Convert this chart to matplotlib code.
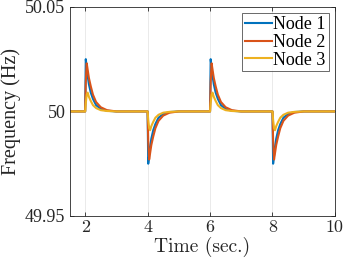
import numpy as np
import matplotlib
matplotlib.use("Agg")
import matplotlib.pyplot as plt

plt.rcParams['font.family'] = ['Liberation Serif', 'DejaVu Serif']
plt.rcParams['mathtext.fontset'] = 'cm'
plt.rcParams['axes.unicode_minus'] = False

# Event times and signs (+1 step-up response, -1 step-down response)
event_times = [2.0, 4.0, 6.0, 8.0]
event_signs = [1, -1, 1, -1]

# Transient shape after each event (offset in seconds, deviation in Hz)
offsets = [0.0, 0.02, 0.05, 0.08, 0.12, 0.18, 0.25, 0.35, 0.5, 0.7, 1.0]
node1_dev = [0.0, 0.025, 0.021, 0.017, 0.013, 0.009, 0.006, 0.003, 0.0012, 0.0003, 0.0]
node2_dev = [0.0, 0.014, 0.023, 0.020, 0.016, 0.012, 0.008, 0.0045, 0.002, 0.0006, 0.0]
node3_dev = [0.0, 0.004, 0.008, 0.009, 0.007, 0.005, 0.003, 0.0016, 0.0006, 0.0002, 0.0]

nominal = 50.0
t_start, t_end = 1.5, 10.0

series = {"Node 1": node1_dev, "Node 2": node2_dev, "Node 3": node3_dev}
colors = {"Node 1": "#0072BD", "Node 2": "#D95319", "Node 3": "#EDB120"}

x_ticks = [2, 4, 6, 8, 10]
y_ticks = [49.95, 50.0, 50.05]
y_ticklabels = ["49.95", "50", "50.05"]


def build(dev):
    t = [t_start]
    f = [nominal]
    for te, s in zip(event_times, event_signs):
        for o, d in zip(offsets, dev):
            t.append(te + o)
            f.append(nominal + s * d)
    t.append(t_end)
    f.append(nominal)
    return np.array(t), np.array(f)


fig = plt.figure(figsize=(3.46, 2.65), dpi=100)
ax = fig.add_axes([0.201, 0.185, 0.767, 0.789])

for name, dev in series.items():
    t, f = build(dev)
    ax.plot(t, f, color=colors[name], lw=1.5, label=name)

ax.set_xlim(t_start, t_end)
ax.set_ylim(49.95, 50.05)
ax.set_xticks(x_ticks)
ax.set_xticklabels([str(v) for v in x_ticks], fontfamily='cmr10', fontsize=13)
ax.set_yticks(y_ticks)
ax.set_yticklabels(y_ticklabels, fontsize=13)
ax.grid(True, axis='x', color='#e6e6e6', lw=0.6)
ax.set_axisbelow(True)
ax.tick_params(direction='in', length=3, width=0.6, top=True, right=True,
               colors='#262626', labelcolor='#262626', pad=3)
for sp in ax.spines.values():
    sp.set_linewidth(0.6)
    sp.set_color('#262626')
ax.set_xlabel("Time (sec.)", fontfamily='cmr10', fontsize=14, color='#262626', labelpad=1)
ax.set_ylabel("Frequency (Hz)", fontsize=14.5, color='#262626', labelpad=3)

leg = ax.legend(loc='upper right', prop={'size': 13}, frameon=True, fancybox=False,
                borderpad=0.15, handlelength=1.5, handletextpad=0.1, labelspacing=0.05,
                borderaxespad=0.35)
leg.get_frame().set_edgecolor('#262626')
leg.get_frame().set_linewidth(0.6)

fig.savefig("out.png", dpi=100)
